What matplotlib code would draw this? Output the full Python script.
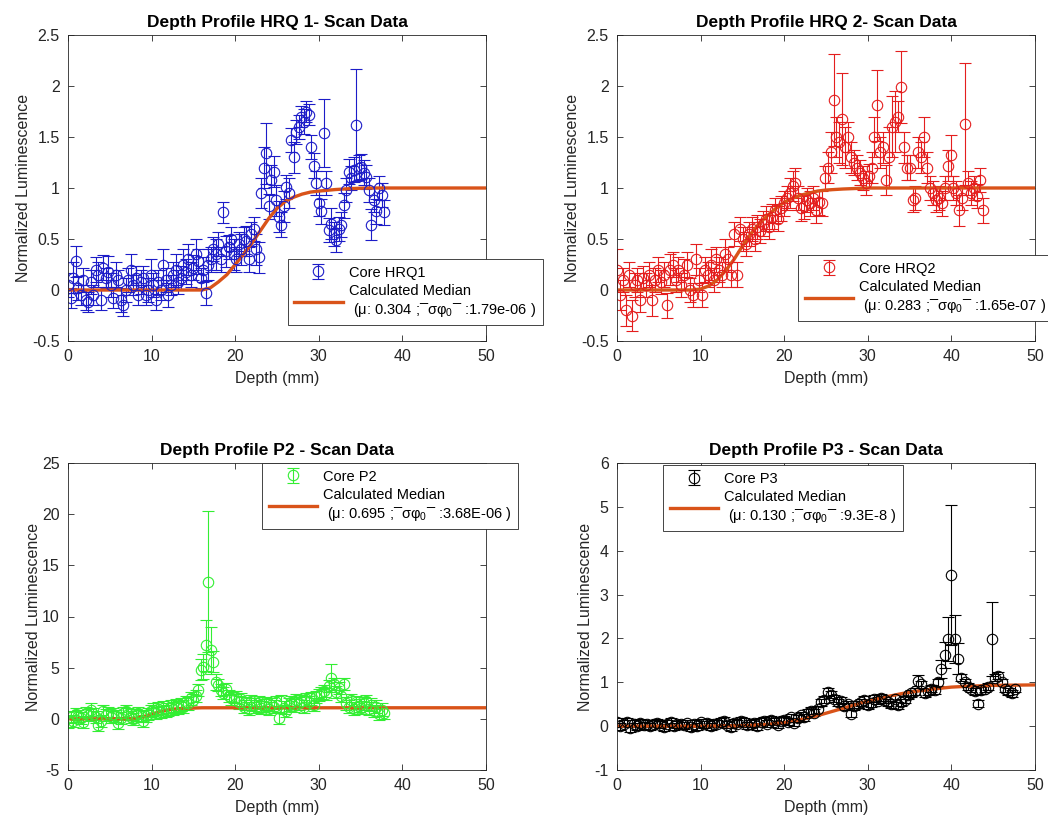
import numpy as np
import matplotlib
matplotlib.use('Agg')
import matplotlib.pyplot as plt

plt.rcParams['font.family'] = ['Liberation Sans', 'DejaVu Sans']
plt.rcParams['mathtext.fontset'] = 'custom'
plt.rcParams['mathtext.rm'] = 'Liberation Sans'

# ---- HRQ1 (step 0.3 mm) ----
hrq1_step = 0.3
hrq1_y = [0.05, -0.08, 0.12, 0.28, 0.02, -0.05, 0.1, -0.1, -0.12, 0.08,
          -0.05, 0.2, 0.15, -0.1, 0.22, 0.12, 0.18, 0.05, -0.08, 0.15,
          0.1, -0.1, -0.15, 0.0, 0.1, 0.2, 0.05, 0.12, -0.05, 0.08,
          0.12, -0.05, 0.0, 0.15, 0.05, -0.1, 0.08, 0.0, 0.25, 0.1,
          -0.05, 0.05, 0.15, 0.2, 0.08, 0.12, 0.25, 0.18, 0.3, 0.15,
          0.22, 0.35, 0.28, 0.12, 0.2, -0.03, 0.25, 0.3, 0.4, 0.35,
          0.45, 0.3, 0.76, 0.38, 0.42, 0.5, 0.35, 0.3, 0.45, 0.4,
          0.5, 0.48, 0.3, 0.55, 0.6, 0.4, 0.32, 0.95, 1.2, 1.34,
          0.82, 1.08, 1.16, 0.88, 0.72, 0.64, 0.82, 1.01, 0.95, 1.47,
          1.3, 1.55, 1.6, 1.7, 1.65, 1.75, 1.72, 1.4, 1.22, 1.05,
          0.85, 0.77, 1.54, 1.05, 0.59, 0.65, 0.55, 0.49, 0.6, 0.64,
          0.83, 0.98, 1.16, 1.1, 1.18, 1.62, 1.2, 1.21, 1.15, 1.11,
          0.98, 0.64, 0.88, 0.77, 1.0, 0.93, 0.76]
hrq1_err = [0.12, 0.1, 0.15, 0.15, 0.12, 0.1, 0.12, 0.1, 0.1, 0.12,
            0.1, 0.12, 0.12, 0.1, 0.12, 0.1, 0.15, 0.12, 0.1, 0.12,
            0.1, 0.12, 0.1, 0.12, 0.12, 0.15, 0.1, 0.12, 0.1, 0.12,
            0.12, 0.1, 0.12, 0.15, 0.12, 0.1, 0.12, 0.1, 0.15, 0.12,
            0.12, 0.1, 0.12, 0.15, 0.12, 0.12, 0.15, 0.12, 0.15, 0.12,
            0.12, 0.15, 0.12, 0.1, 0.12, 0.12, 0.15, 0.12, 0.12, 0.15,
            0.12, 0.12, 0.1, 0.15, 0.12, 0.12, 0.15, 0.12, 0.12, 0.15,
            0.12, 0.15, 0.12, 0.12, 0.12, 0.15, 0.15, 0.15, 0.2, 0.3,
            0.12, 0.15, 0.15, 0.15, 0.15, 0.12, 0.15, 0.12, 0.15, 0.12,
            0.15, 0.12, 0.12, 0.1, 0.12, 0.1, 0.1, 0.12, 0.12, 0.12,
            0.12, 0.12, 0.33, 0.12, 0.12, 0.15, 0.12, 0.12, 0.12, 0.12,
            0.12, 0.12, 0.12, 0.12, 0.12, 0.55, 0.12, 0.12, 0.12, 0.12,
            0.12, 0.15, 0.12, 0.12, 0.12, 0.12, 0.12]
hrq1_fit_x = [0, 10, 15, 16, 17, 18, 19, 20, 21, 22, 23, 24, 25, 26, 27, 28, 29, 30, 32, 34, 36, 40, 50]
hrq1_fit_y = [0, 0, 0, 0, 0.02, 0.08, 0.15, 0.25, 0.35, 0.46, 0.58, 0.7, 0.8, 0.87, 0.91, 0.94,
              0.96, 0.97, 0.985, 0.995, 1.0, 1.0, 1.0]

# ---- HRQ2 (step 0.35 mm) ----
hrq2_step = 0.35
hrq2_y = [0.2, -0.05, 0.1, -0.2, 0.15, -0.25, 0.05, 0.1, -0.1, 0.12,
          0.05, 0.15, -0.1, 0.1, 0.2, 0.08, 0.15, -0.15, 0.2, 0.25,
          0.1, 0.2, 0.05, 0.15, 0.25, 0.0, -0.05, 0.3, 0.1, -0.05,
          0.2, 0.15, 0.25, 0.1, 0.3, 0.2, 0.15, 0.35, 0.3, 0.15,
          0.55, 0.15, 0.6, 0.5, 0.45, 0.55, 0.6, 0.5, 0.62, 0.58,
          0.65, 0.7, 0.62, 0.72, 0.78, 0.7, 0.8, 0.85, 0.9, 0.95,
          1.02, 1.05, 0.9, 0.8, 0.82, 0.88, 0.85, 0.9, 0.78, 0.86,
          0.85, 1.1, 1.2, 1.35, 1.86, 1.5, 1.45, 1.68, 1.4, 1.5,
          1.3, 1.25, 1.2, 1.15, 1.1, 1.05, 1.12, 1.2, 1.5, 1.81,
          1.35, 1.4, 1.08, 1.3, 1.6, 1.65, 1.7, 1.99, 1.4, 1.2,
          1.2, 0.88, 0.9, 1.35, 1.3, 1.5, 1.2, 1.0, 0.95, 0.88,
          0.9, 0.85, 1.0, 1.22, 1.32, 1.0, 0.95, 0.78, 0.9, 1.63,
          1.05, 0.95, 1.0, 0.92, 1.08, 0.78]
hrq2_err = [0.2, 0.15, 0.12, 0.15, 0.12, 0.15, 0.12, 0.12, 0.12, 0.12,
            0.12, 0.12, 0.15, 0.12, 0.12, 0.12, 0.12, 0.12, 0.15, 0.12,
            0.12, 0.12, 0.12, 0.15, 0.12, 0.12, 0.12, 0.15, 0.12, 0.12,
            0.12, 0.12, 0.15, 0.12, 0.12, 0.12, 0.12, 0.15, 0.12, 0.12,
            0.12, 0.12, 0.12, 0.12, 0.12, 0.12, 0.12, 0.12, 0.12, 0.12,
            0.12, 0.12, 0.12, 0.12, 0.12, 0.12, 0.12, 0.12, 0.12, 0.15,
            0.15, 0.15, 0.12, 0.12, 0.12, 0.12, 0.12, 0.12, 0.12, 0.12,
            0.12, 0.12, 0.15, 0.2, 0.45, 0.2, 0.2, 0.45, 0.2, 0.15,
            0.15, 0.12, 0.12, 0.12, 0.12, 0.12, 0.12, 0.15, 0.2, 0.35,
            0.15, 0.15, 0.15, 0.3, 0.3, 0.3, 0.15, 0.35, 0.15, 0.12,
            0.12, 0.12, 0.12, 0.15, 0.15, 0.2, 0.15, 0.12, 0.12, 0.12,
            0.12, 0.12, 0.12, 0.15, 0.2, 0.12, 0.12, 0.15, 0.12, 0.6,
            0.12, 0.12, 0.12, 0.12, 0.12, 0.12]
hrq2_fit_x = [0, 9, 10, 11, 12, 13, 14, 15, 16, 17, 18, 19, 20, 21, 22, 23, 24, 25, 27, 30, 35, 50]
hrq2_fit_y = [0, 0, 0.01, 0.04, 0.1, 0.19, 0.3, 0.43, 0.55, 0.65, 0.73, 0.8, 0.86, 0.9, 0.93,
              0.95, 0.97, 0.98, 0.99, 1.0, 1.0, 1.0]

# ---- P2 (step 0.3 mm) ----
p2_step = 0.3
p2_y = [-0.3, 0.2, -0.2, 0.5, 0.3, 0.1, -0.3, 0.6, 0.4, 0.9,
        0.5, 0.2, -0.6, -0.2, 0.8, 0.4, 0.6, 0.2, 0.5, 0.3,
        -0.4, 0.1, 0.6, 0.8, 0.5, 0.2, 0.0, 0.4, 0.6, 0.3,
        -0.2, 0.3, 0.5, 0.8, 0.9, 0.6, 1.0, 0.7, 1.1, 0.8,
        0.9, 1.2, 1.0, 1.3, 1.1, 1.4, 1.2, 1.6, 1.5, 2.0,
        1.8, 2.2, 2.8, 4.8, 5.1, 7.2, 13.4, 6.7, 5.6, 3.6,
        3.3, 2.8, 2.5, 2.9, 2.2, 2.0, 1.8, 2.1, 1.6, 1.9,
        1.2, 1.5, 1.0, 1.7, 1.4, 1.2, 1.6, 1.1, 1.3, 1.5,
        1.0, 1.4, 1.2, 1.6, 0.1, 1.7, 1.1, 0.8, 1.4, 1.6,
        1.3, 1.8, 1.5, 1.7, 1.2, 1.9, 1.6, 2.0, 1.4, 2.1,
        2.3, 2.5, 2.7, 2.4, 3.2, 4.0, 3.4, 2.6, 3.0, 2.2,
        3.4, 1.5, 1.2, 1.8, 1.0, 1.6, 1.3, 1.1, 1.5, 1.7,
        1.0, 1.4, 0.8, 1.2, 0.5, 0.9, 0.6]
p2_err = [0.6] * 53 + [1.0, 1.2, 2.5, 6.9, 2.3, 1.0, 0.8] + [0.6] * 45 + [1.4] + [0.6] * 21
p2_fit_x = [0, 7, 8, 9, 10, 11, 12, 13, 14, 15, 16, 50]
p2_fit_y = [0, 0, 0.05, 0.2, 0.45, 0.7, 0.88, 0.98, 1.03, 1.05, 1.08, 1.08]

# ---- P3 (step 0.4 mm) ----
p3_step = 0.4
p3_y = [0.1, 0.0, 0.05, 0.1, -0.05, 0.05, 0.0, 0.08, 0.02, 0.06,
        0.0, 0.05, 0.08, 0.03, -0.02, 0.05, 0.1, 0.0, 0.04, 0.06,
        0.02, 0.07, -0.03, 0.05, 0.0, 0.09, 0.04, 0.08, 0.0, 0.05,
        0.06, 0.1, 0.12, 0.03, -0.03, 0.08, 0.05, 0.12, 0.1, 0.02,
        0.05, 0.08, 0.0, 0.1, 0.12, 0.06, 0.14, 0.1, 0.03, 0.12,
        0.15, 0.1, 0.2, 0.08, 0.18, 0.25, 0.2, 0.3, 0.35, 0.3,
        0.38, 0.55, 0.6, 0.78, 0.72, 0.62, 0.55, 0.58, 0.45, 0.5,
        0.28, 0.45, 0.5, 0.55, 0.6, 0.48, 0.52, 0.62, 0.58, 0.65,
        0.6, 0.55, 0.5, 0.62, 0.48, 0.55, 0.6, 0.7, 0.75, 0.8,
        1.04, 0.95, 0.75, 0.8, 0.85, 0.82, 1.0, 1.3, 1.62, 1.99,
        3.44, 1.99, 1.54, 1.1, 1.0, 0.9, 0.85, 0.8, 0.51, 0.82,
        0.85, 0.9, 1.99, 1.1, 1.15, 1.0, 0.85, 0.8, 0.75, 0.85]
p3_err = ([0.08] * 63 + [0.1] + [0.08] * 26 + [0.12] + [0.08] * 6
          + [0.2, 0.3, 0.5, 1.6, 0.55, 0.35] + [0.08] * 9 + [0.85] + [0.08] * 7)
p3_fit_x = [0, 10, 15, 18, 20, 22, 24, 26, 28, 30, 32, 34, 36, 38, 40, 42, 45, 50]
p3_fit_y = [0, 0, 0.01, 0.04, 0.08, 0.15, 0.24, 0.35, 0.46, 0.57, 0.66, 0.74, 0.8, 0.85, 0.89,
            0.91, 0.93, 0.94]

median_color = '#D95319'

panels = [
    dict(title='Depth Profile HRQ 1- Scan Data', y=hrq1_y, err=hrq1_err, step=hrq1_step,
         fx=hrq1_fit_x, fy=hrq1_fit_y, color='#1c1cc8', label='Core HRQ1',
         mu='0.304', sig='1.79e-06',
         yticks=[-0.5, 0, 0.5, 1, 1.5, 2, 2.5], ylabels=['-0.5', '0', '0.5', '1', '1.5', '2', '2.5'],
         pos=[68, 35, 486, 341], leg=(0.526, 0.268)),
    dict(title='Depth Profile HRQ 2- Scan Data', y=hrq2_y, err=hrq2_err, step=hrq2_step,
         fx=hrq2_fit_x, fy=hrq2_fit_y, color='#e41e1e', label='Core HRQ2',
         mu='0.283', sig='1.65e-07',
         yticks=[-0.5, 0, 0.5, 1, 1.5, 2, 2.5], ylabels=['-0.5', '0', '0.5', '1', '1.5', '2', '2.5'],
         pos=[617, 35, 1035, 341], leg=(0.433, 0.281)),
    dict(title='Depth Profile P2 - Scan Data', y=p2_y, err=p2_err, step=p2_step,
         fx=p2_fit_x, fy=p2_fit_y, color='#33ee33', label='Core P2',
         mu='0.695', sig='3.68E-06',
         yticks=[-5, 0, 5, 10, 15, 20, 25], ylabels=['-5', '0', '5', '10', '15', '20', '25'],
         pos=[68, 463, 486, 770], leg=(0.464, 1.0)),
    dict(title='Depth Profile P3 - Scan Data', y=p3_y, err=p3_err, step=p3_step,
         fx=p3_fit_x, fy=p3_fit_y, color='black', label='Core P3',
         mu='0.130', sig='9.3E-8',
         yticks=[-1, 0, 1, 2, 3, 4, 5, 6], ylabels=['-1', '0', '1', '2', '3', '4', '5', '6'],
         pos=[617, 463, 1035, 770], leg=(0.11, 0.993)),
]

W, H = 1048, 819
fig = plt.figure(figsize=(W / 100, H / 100), dpi=100)

for p in panels:
    x0, y0, x1, y1 = p['pos']
    ax = fig.add_axes([x0 / W, 1 - y1 / H, (x1 - x0) / W, (y1 - y0) / H])
    y = np.array(p['y'])
    x = np.arange(len(y)) * p['step']
    eb = ax.errorbar(x, y, yerr=p['err'], fmt='o', mfc='none', mec=p['color'], ecolor=p['color'],
                     ms=7.5, mew=0.8, elinewidth=0.8, capsize=4, capthick=0.8)
    med_label = ('Calculated Median\n (μ: ' + p['mu'] + ' ;¯σ$\\mathrm{φ}_0$¯ :' + p['sig'] + ' )')
    ln, = ax.plot(p['fx'], p['fy'], color=median_color, lw=2.4)

    ax.set_xlim(0, 50)
    ax.set_ylim(p['yticks'][0], p['yticks'][-1])
    ax.set_xticks([0, 10, 20, 30, 40, 50])
    ax.set_xticklabels(['0', '10', '20', '30', '40', '50'])
    ax.set_yticks(p['yticks'])
    ax.set_yticklabels(p['ylabels'])
    ax.tick_params(direction='in', top=True, right=True, labelsize=11.5, length=4,
                   colors='#262626', width=0.6, pad=6)
    for s in ax.spines.values():
        s.set_color('#262626')
        s.set_linewidth(0.6)
    ax.set_title(p['title'], fontsize=12.5, fontweight='bold', pad=6)
    ax.set_xlabel('Depth (mm)', fontsize=11.5, color='#262626', labelpad=5)
    ax.set_ylabel('Normalized Luminescence', fontsize=11.5, color='#262626', labelpad=1)

    leg = ax.legend([eb, ln], [p['label'], med_label], loc='upper left', bbox_to_anchor=p['leg'],
                    fontsize=10.5, frameon=True, fancybox=False, framealpha=1, edgecolor='#262626',
                    handlelength=3.3, handletextpad=0.45, borderpad=0.45, labelspacing=0.3,
                    borderaxespad=0)
    leg.get_frame().set_linewidth(0.6)

fig.savefig('out.png', dpi=100, facecolor='white')
